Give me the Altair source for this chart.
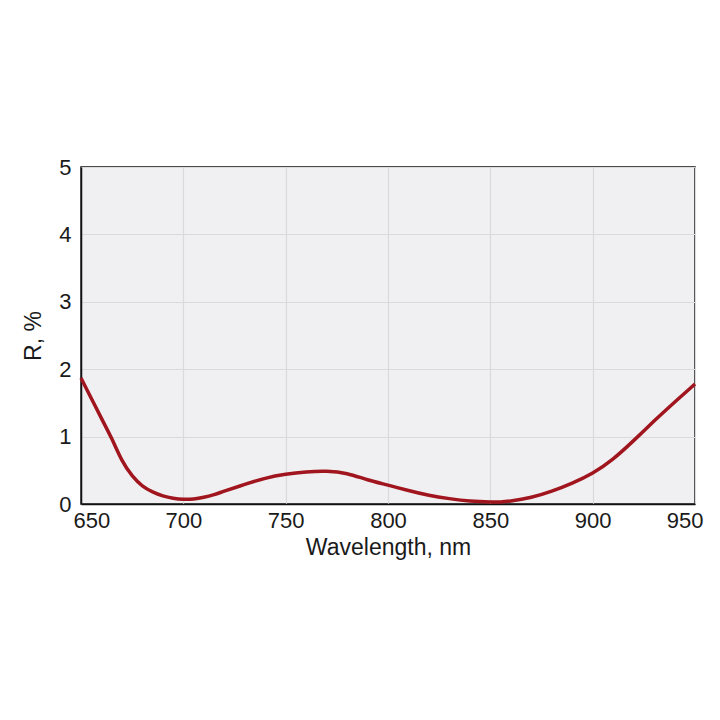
import altair as alt
import pandas as pd

wavelength = [650, 655, 660, 665, 670, 675, 680, 685, 690, 695, 700, 705, 710, 715,
              720, 730, 740, 750, 760, 770, 780, 790, 800, 810, 820, 830, 840,
              850, 855, 860, 870, 880, 890, 900, 910, 920, 930, 940, 950]
reflectance = [1.87, 1.57, 1.27, 0.97, 0.65, 0.42, 0.27, 0.18, 0.12, 0.085, 0.07, 0.075,
               0.10, 0.14, 0.19, 0.29, 0.38, 0.44, 0.475, 0.485, 0.45, 0.36, 0.28,
               0.20, 0.13, 0.08, 0.045, 0.03, 0.03, 0.045, 0.10, 0.19, 0.31, 0.46, 0.67,
               0.94, 1.23, 1.51, 1.78]
x_ticks = [650, 700, 750, 800, 850, 900, 950]
y_ticks = [0, 1, 2, 3, 4, 5]

df = pd.DataFrame({"wl": wavelength, "r": reflectance})

FONT = "Liberation Sans"

chart = alt.Chart(df).mark_line(
    color="#a0151e", strokeWidth=3.5, interpolate="natural"
).encode(
    x=alt.X("wl:Q",
            scale=alt.Scale(domain=[650, 950], nice=False, zero=False),
            axis=alt.Axis(values=x_ticks, title="Wavelength, nm", format="d",
                          labelFlush=True, labelFlushOffset=8,
                          labelPadding=6, titlePadding=5)),
    y=alt.Y("r:Q",
            scale=alt.Scale(domain=[0, 5], nice=False),
            axis=alt.Axis(values=y_ticks, title="R, %", format="d",
                          labelPadding=10, titlePadding=13)),
).properties(
    width=614, height=337,
    autosize=alt.AutoSizeParams(type="none"),
    padding={"left": 73, "top": 159, "right": 15, "bottom": 80},
    background="white",
).configure_view(
    fill="#f0f0f2", stroke="#111111", strokeWidth=1.5
).configure_axis(
    labelFont=FONT, titleFont=FONT, labelFontSize=22, titleFontSize=23,
    labelColor="#1a1a1a", titleColor="#1a1a1a", titleFontWeight="normal",
    grid=True, gridColor="#dadada", gridWidth=1.2,
    ticks=False, domain=True, domainColor="#111111", domainWidth=1.5,
)

chart.save("out.html", embed_options={"renderer": "svg", "actions": False})
